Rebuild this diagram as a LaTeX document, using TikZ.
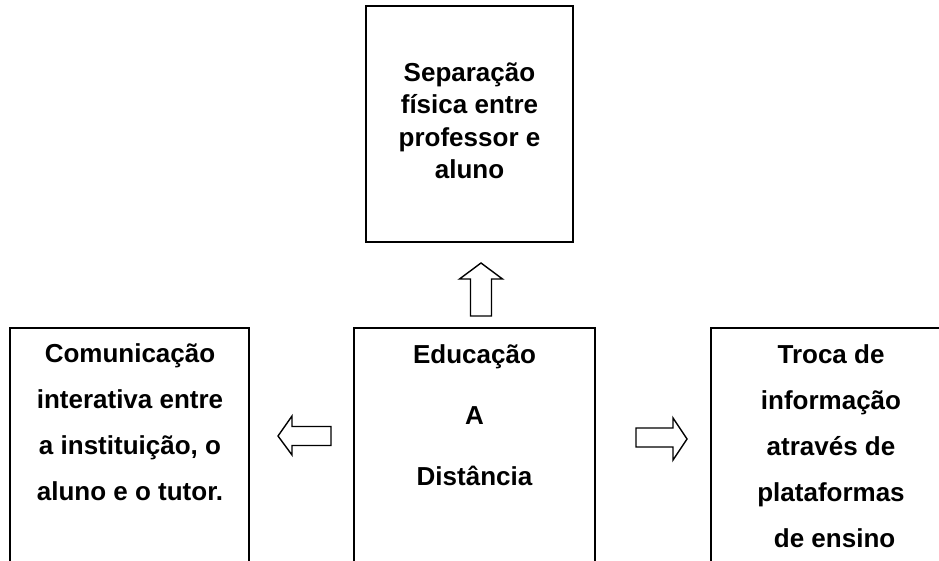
\documentclass[tikz,border=0pt]{standalone}
\usepackage{fontspec}
\setmainfont{Liberation Sans}
\begin{document}
\begin{tikzpicture}[x=1pt,y=1pt,
  boxframe/.style={draw, line width=1.8pt, rectangle, inner sep=0pt},
  boxtext/.style={align=center, font=\bfseries\fontsize{26}{#1}\selectfont, inner sep=0pt},
  blockarrow/.style={draw, line width=1.4pt, fill=white, line join=miter}]
\useasboundingbox (0,0) rectangle (939,560);
\clip (0,0) rectangle (939,560);
% boxes (image y -> 560 - y)
\node[boxframe, minimum width=207pt, minimum height=236pt] (top) at (469.5,436) {};
\node[boxframe, minimum width=239pt, minimum height=250pt] (left) at (129.5,107) {};
\node[boxframe, minimum width=241pt, minimum height=250pt] (center) at (474.5,107) {};
\node[boxframe, minimum width=260pt, minimum height=250pt] (right) at (841,107) {};
% texts
\node[boxtext=32.5] (ttop) at (469.5,439) {Separação\\física entre\\professor e\\aluno};
\node[boxtext=46] (tleft) at (130,137.5) {Comunicação\\interativa entre\\a instituição, o\\aluno e o tutor.};
\node[boxtext=61] (tcenter) at (474.5,145) {Educação\\A\\Distância};
\node[boxtext=46] (tright) at (831,113.5) {Troca de\\informação\\através de\\plataformas\\\ de ensino};
% block arrows
\coordinate (aup) at (481,244);
\draw[blockarrow] (aup) ++(-10.5,0) -- ++(0,37) -- ++(-11,0) -- (481,297) -- (502.5,281) -- ++(-11,0) -- ++(0,-37) -- cycle;
\coordinate (aleft) at (331,124);
\draw[blockarrow] (aleft) ++(0,-9.5) -- ++(0,19) -- (292,133.5) -- (292,144) -- (278,124) -- (292,105) -- (292,114.5) -- cycle;
\coordinate (aright) at (636,122.5);
\draw[blockarrow] (aright) ++(0,-9.5) -- ++(0,19) -- (673,132) -- (673,142) -- (687,121) -- (673,100) -- (673,113) -- cycle;
\end{tikzpicture}
\end{document}
